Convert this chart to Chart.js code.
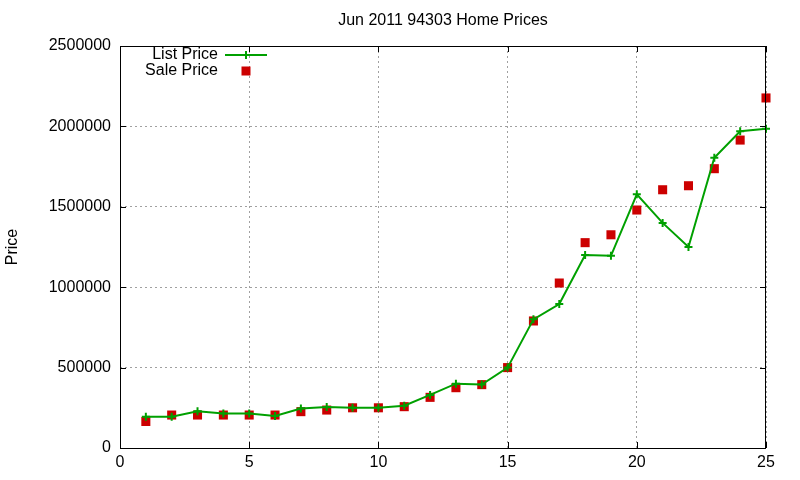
<!DOCTYPE html>
<html>
<head>
<meta charset="utf-8">
<title>Jun 2011 94303 Home Prices</title>
<script src="https://cdn.jsdelivr.net/npm/chart.js@4/dist/chart.umd.min.js"></script>
<style>
  body { margin: 0; background: #fff; }
  #chart { display: block; }
</style>
</head>
<body>
<canvas id="chart" width="800" height="480"></canvas>
<script>
// dados
const titulo = 'Jun 2011 94303 Home Prices';
const dias = [1,2,3,4,5,6,7,8,9,10,11,12,13,14,15,16,17,18,19,20,21,22,23,24,25];
const listPrice = [195000,195000,228000,215000,215000,199000,245000,255000,250000,250000,
  263000,330000,400000,395000,500000,800000,895000,1200000,1195000,1578000,
  1400000,1250000,1805000,1970000,1985000];
const salePrice = [165000,205000,205000,205000,205000,205000,226000,236000,250000,250000,
  257000,315000,375000,394000,500000,790000,1026000,1277000,1326000,1480000,
  1606000,1631000,1737000,1915000,2177000];
const legendas = ['List Price', 'Sale Price'];

const verde = '#00a000';
const vermelho = '#cc0000';
const fonte = '"Liberation Sans", Arial, sans-serif';
const tamFonte = 16;

function pontos(valores) {
  return valores.map((v, i) => ({ x: dias[i], y: v }));
}

// moldura, ticks para dentro, titulo e legenda (estilo gnuplot)
const estiloGnuplot = {
  id: 'estiloGnuplot',
  afterDraw(chart) {
    const ctx = chart.ctx;
    const a = chart.chartArea;
    const sx = chart.scales.x;
    const sy = chart.scales.y;
    const tl = 6;
    ctx.save();
    ctx.strokeStyle = '#000';
    ctx.lineWidth = 1;
    ctx.beginPath();
    ctx.rect(a.left + 0.5, a.top + 0.5, a.right - a.left - 1, a.bottom - a.top);
    sx.ticks.forEach(t => {
      const px = Math.round(sx.getPixelForValue(t.value)) + 0.5;
      ctx.moveTo(px, a.bottom); ctx.lineTo(px, a.bottom - tl);
      ctx.moveTo(px, a.top); ctx.lineTo(px, a.top + tl);
    });
    sy.ticks.forEach(t => {
      const py = Math.round(sy.getPixelForValue(t.value)) + 0.5;
      ctx.moveTo(a.left, py); ctx.lineTo(a.left + tl, py);
      ctx.moveTo(a.right, py); ctx.lineTo(a.right - tl, py);
    });
    ctx.stroke();

    // titulo
    ctx.fillStyle = '#000';
    ctx.font = tamFonte + 'px ' + fonte;
    ctx.textAlign = 'center';
    ctx.textBaseline = 'middle';
    ctx.fillText(titulo, (a.left + a.right) / 2, 21);

    // legenda
    const lx = a.left + 98;
    const sampleX = a.left + 126;
    ctx.textAlign = 'right';
    ctx.fillText(legendas[0], lx, 55);
    ctx.fillText(legendas[1], lx, 71);
    ctx.strokeStyle = verde;
    ctx.lineWidth = 2;
    ctx.beginPath();
    ctx.moveTo(a.left + 105, 55); ctx.lineTo(a.left + 147, 55);
    ctx.moveTo(sampleX, 51); ctx.lineTo(sampleX, 59);
    ctx.stroke();
    ctx.fillStyle = vermelho;
    ctx.fillRect(sampleX - 4.5, 71 - 4.5, 9, 9);
    ctx.restore();
  }
};

const config = {
  type: 'line',
  data: {
    datasets: [{
      label: legendas[0],
      data: pontos(listPrice),
      borderColor: verde,
      backgroundColor: verde,
      borderWidth: 2,
      pointStyle: 'cross',
      pointRadius: 4,
      pointBorderWidth: 2,
      tension: 0,
      clip: false
    }, {
      label: legendas[1],
      data: pontos(salePrice),
      showLine: false,
      borderColor: vermelho,
      backgroundColor: vermelho,
      pointStyle: 'rect',
      pointRadius: 6.4,
      pointBorderWidth: 0,
      clip: false
    }]
  },
  options: {
    responsive: false,
    animation: false,
    devicePixelRatio: 1,
    layout: { padding: { top: 46, right: 34, left: 0, bottom: 0 } },
    plugins: {
      legend: { display: false },
      title: { display: false },
      tooltip: { enabled: false }
    },
    scales: {
      x: {
        type: 'linear',
        min: 0,
        max: 25,
        afterFit(scale) { scale.height = 32; },
        ticks: {
          stepSize: 5,
          color: '#000',
          padding: 5,
          maxRotation: 0,
          font: { family: fonte, size: tamFonte }
        },
        grid: { color: '#a0a0a0', drawTicks: false },
        border: { display: false, dash: [2, 3] }
      },
      y: {
        type: 'linear',
        min: 0,
        max: 2500000,
        afterFit(scale) { scale.width = 120; },
        ticks: {
          stepSize: 500000,
          color: '#000',
          padding: 9,
          font: { family: fonte, size: tamFonte },
          callback: v => String(v)
        },
        grid: { color: '#a0a0a0', drawTicks: false },
        border: { display: false, dash: [2, 3] },
        title: {
          display: true,
          text: 'Price',
          color: '#000',
          padding: { top: 3, bottom: 0 },
          font: { family: fonte, size: tamFonte }
        }
      }
    }
  },
  plugins: [estiloGnuplot]
};

const myChart = new Chart(document.getElementById('chart'), config);
</script>
</body>
</html>
